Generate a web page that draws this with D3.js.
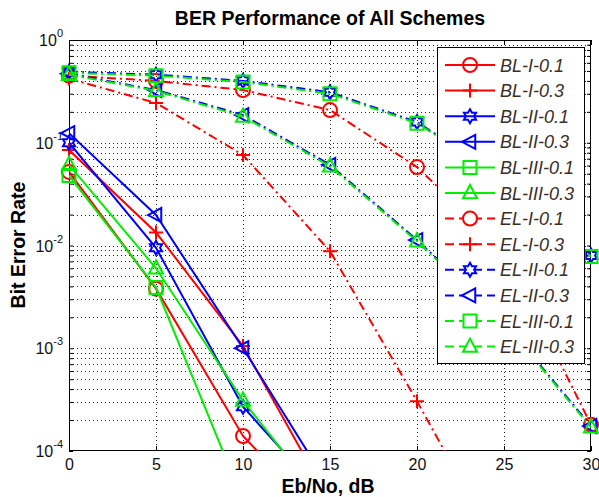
<!doctype html>
<html lang="en">
<head>
  <meta charset="utf-8">
  <title>BER Performance of All Schemes</title>
  <script type="text/javascript" src="https://cdnjs.cloudflare.com/ajax/libs/d3/7.8.5/d3.min.js"></script>
  <style>
    body { margin: 0; background: #fff; }
    text { font-family: "Liberation Sans", Arial, Helvetica, sans-serif; }
  </style>
</head>
<body>
  <svg width="599" height="497" id="svg"></svg>
</body>

<script type="text/javascript">

	// Eb/No values (dB)
	var ebno = [0, 5, 10, 15, 20, 25, 30];

	// BER, null = not plotted
	var blI01   = [0.052, 0.0038, 1.4e-4, 1.8e-5, null, null, null];
	var blI03   = [0.085, 0.0134, 1.05e-3, 3.2e-5, null, null, null];
	var blII01  = [0.100, 0.0095, 2.7e-4, 3.1e-5, null, null, null];
	var blII03  = [0.124, 0.0198, 1.0e-3, 4.4e-5, null, null, null];
	var blIII01 = [0.048, 0.0039, 3.3e-5, 3e-7, null, null, null];
	var blIII03 = [0.061, 0.0060, 3.1e-4, 2.6e-5, null, null, null];
	var elI01   = [0.45, 0.40, 0.326, 0.208, 0.058, 0.009, 1.8e-4];
	var elI03   = [0.42, 0.244, 0.076, 0.0088, 3.05e-4, 9e-6, null];
	var elII01  = [0.49, 0.46, 0.40, 0.31, 0.159, 0.045, 0.008];
	var elII03  = [0.47, 0.326, 0.186, 0.061, 0.0113, 1.8e-3, 1.75e-4];
	var elIII01 = [0.48, 0.45, 0.39, 0.30, 0.155, 0.044, 0.0078];
	var elIII03 = [0.46, 0.32, 0.18, 0.059, 0.011, 1.75e-3, 1.7e-4];

	var seriesNames = ['BL-I-0.1','BL-I-0.3','BL-II-0.1','BL-II-0.3','BL-III-0.1','BL-III-0.3',
	                   'EL-I-0.1','EL-I-0.3','EL-II-0.1','EL-II-0.3','EL-III-0.1','EL-III-0.3'];
	var seriesValues = [blI01, blI03, blII01, blII03, blIII01, blIII03,
	                    elI01, elI03, elII01, elII03, elIII01, elIII03];

	var xTicks = [0, 5, 10, 15, 20, 25, 30];
	var yTickExps = [-4, -3, -2, -1, 0];

	// styles per series
	var colors = ['#ff0000','#ff0000','#0000ff','#0000ff','#00ee00','#00ee00'];
	var markers = ['o','+','h','<','s','^'];

	// plot box (window.top is read-only, so own names)
	var pL = 69, pR = 591, pT = 40, pB = 451;

	var x = d3.scaleLinear().domain([0, 30]).range([pL, pR]);
	var y = d3.scaleLog().domain([1e-4, 1]).range([pB, pT]);

	var svg = d3.select('#svg');

	svg.append('defs').append('clipPath').attr('id', 'plotclip')
		.append('rect')
		.attr('x', pL).attr('y', pT)
		.attr('width', pR - pL).attr('height', pB - pT);

	// minor + major y values for the grid
	var yGrid = [];
	for (var e = -4; e < 0; e++) {
		for (var m = 1; m < 10; m++) yGrid.push(m * Math.pow(10, e));
	}
	yGrid.push(1);

	var grid = svg.append('g')
		.attr('stroke', '#222')
		.attr('stroke-width', 1)
		.attr('stroke-dasharray', '1,3');

	grid.selectAll('.ygrid')
		.data(yGrid.filter(function(d) { return d > 1e-4 && d < 1; }))
		.enter()
		.append('line')
		.attr('class', 'ygrid')
		.attr('x1', pL).attr('x2', pR)
		.attr('y1', function(d) { return Math.round(y(d)) + 0.5; })
		.attr('y2', function(d) { return Math.round(y(d)) + 0.5; });

	grid.selectAll('.xgrid')
		.data(xTicks.slice(1, -1))
		.enter()
		.append('line')
		.attr('class', 'xgrid')
		.attr('y1', pT).attr('y2', pB)
		.attr('x1', function(d) { return Math.round(x(d)) + 0.5; })
		.attr('x2', function(d) { return Math.round(x(d)) + 0.5; });

	// axes with inward ticks
	svg.append('g')
		.attr('transform', 'translate(0,' + pB + ')')
		.call(d3.axisBottom(x).tickValues(xTicks).tickSize(-5).tickPadding(8))
		.call(function(g) {
			g.select('.domain').remove();
			g.selectAll('text').attr('font-size', 16).attr('fill', '#111');
		});

	svg.append('g')
		.attr('transform', 'translate(0,' + pT + ')')
		.call(d3.axisTop(x).tickValues(xTicks).tickSize(-5).tickFormat(''))
		.call(function(g) { g.select('.domain').remove(); });

	svg.append('g')
		.attr('transform', 'translate(' + pL + ',0)')
		.call(d3.axisLeft(y).tickValues(yGrid).tickSize(-4).tickFormat(''))
		.call(function(g) { g.select('.domain').remove(); });

	svg.append('g')
		.attr('transform', 'translate(' + pR + ',0)')
		.call(d3.axisRight(y).tickValues(yGrid).tickSize(-4).tickFormat(''))
		.call(function(g) { g.select('.domain').remove(); });

	// box
	svg.append('rect')
		.attr('x', pL + 0.5).attr('y', pT + 0.5)
		.attr('width', pR - pL - 1).attr('height', pB - pT - 1)
		.attr('fill', 'none')
		.attr('stroke', '#000');

	// y tick labels 10^n
	var ylab = svg.selectAll('.ylab')
		.data(yTickExps)
		.enter()
		.append('text')
		.attr('class', 'ylab')
		.attr('x', 63)
		.attr('y', function(d) { return y(Math.pow(10, d)) + 6; })
		.attr('text-anchor', 'end')
		.attr('fill', '#111');
	ylab.append('tspan').attr('font-size', 16).text('10');
	ylab.append('tspan').attr('font-size', 11).attr('dy', -9).text(function(d) { return d; });

	// marker shapes
	function markerPath(type, s) {
		if (type === 'o') return d3.symbol(d3.symbolCircle, Math.PI * s * s)();
		if (type === '+') return 'M' + (-s) + ',0H' + s + 'M0,' + (-s) + 'V' + s;
		if (type === 's') return 'M' + (-s) + ',' + (-s) + 'H' + s + 'V' + s + 'H' + (-s) + 'Z';
		if (type === '^') return 'M0,' + (-s - 1) + 'L' + s + ',' + (s * 0.75) + 'L' + (-s) + ',' + (s * 0.75) + 'Z';
		if (type === '<') return 'M' + (-s - 1) + ',0L' + (s * 0.75) + ',' + (-s) + 'L' + (s * 0.75) + ',' + s + 'Z';
		if (type === 'h') {
			var pts = [];
			for (var k = 0; k < 12; k++) {
				var r = k % 2 === 0 ? s : s * 0.58;
				var a = -Math.PI / 2 + k * Math.PI / 6;
				pts.push([r * Math.cos(a), r * Math.sin(a)]);
			}
			return 'M' + pts.join('L') + 'Z';
		}
	}
	var markerSize = { 'o': 7, '+': 7, 's': 6.5, '^': 7, '<': 7, 'h': 7 };

	var line = d3.line()
		.defined(function(d) { return d[1] !== null; })
		.x(function(d) { return x(d[0]); })
		.y(function(d) { return y(d[1]); });

	var dashDot = '9,4,2,4';

	seriesValues.forEach(function(vals, i) {
		var k = i % 6;
		var dashed = i >= 6;
		var pts = ebno.map(function(v, j) { return [v, vals[j]]; });

		svg.append('path')
			.datum(pts)
			.attr('clip-path', 'url(#plotclip)')
			.attr('d', line)
			.attr('fill', 'none')
			.attr('stroke', colors[k])
			.attr('stroke-width', 2)
			.attr('stroke-dasharray', dashed ? dashDot : null);

		svg.selectAll('.mk' + i)
			.data(pts.filter(function(d) { return d[1] !== null && d[1] >= 1e-4; }))
			.enter()
			.append('path')
			.attr('class', 'mk' + i)
			.attr('transform', function(d) { return 'translate(' + x(d[0]) + ',' + y(d[1]) + ')'; })
			.attr('d', markerPath(markers[k], markerSize[markers[k]]))
			.attr('fill', 'none')
			.attr('stroke', colors[k])
			.attr('stroke-width', 2);
	});

	// legend
	var legend = svg.append('g');
	legend.append('rect')
		.attr('x', 437.5).attr('y', 47.5)
		.attr('width', 147).attr('height', 316)
		.attr('fill', '#fff')
		.attr('stroke', '#000');

	var items = legend.selectAll('.item')
		.data(seriesNames)
		.enter()
		.append('g')
		.attr('class', 'item')
		.attr('transform', function(d, i) { return 'translate(0,' + (65 + i * 25.6) + ')'; });

	items.append('line')
		.attr('x1', 445).attr('x2', 495)
		.attr('y1', 0).attr('y2', 0)
		.attr('stroke', function(d, i) { return colors[i % 6]; })
		.attr('stroke-width', 2)
		.attr('stroke-dasharray', function(d, i) { return i >= 6 ? '9,5' : null; });

	items.append('path')
		.attr('transform', 'translate(470,0)')
		.attr('d', function(d, i) { return markerPath(markers[i % 6], markerSize[markers[i % 6]]); })
		.attr('fill', function(d, i) { return i >= 6 ? '#fff' : 'none'; })
		.attr('stroke', function(d, i) { return colors[i % 6]; })
		.attr('stroke-width', 2);

	items.append('text')
		.attr('x', 500)
		.attr('y', 6.5)
		.attr('font-size', 18)
		.attr('font-style', 'italic')
		.attr('fill', '#3b2f28')
		.text(function(d) { return d; });

	// title and axis labels
	svg.append('text')
		.attr('x', 330).attr('y', 25)
		.attr('text-anchor', 'middle')
		.attr('font-size', 19.5)
		.attr('font-weight', 'bold')
		.text('BER Performance of All Schemes');

	svg.append('text')
		.attr('x', 328).attr('y', 493)
		.attr('text-anchor', 'middle')
		.attr('font-size', 19.5)
		.attr('font-weight', 'bold')
		.text('Eb/No, dB');

	svg.append('text')
		.attr('transform', 'translate(25,245) rotate(-90)')
		.attr('text-anchor', 'middle')
		.attr('font-size', 19.5)
		.attr('font-weight', 'bold')
		.text('Bit Error Rate');

</script>
</html>
